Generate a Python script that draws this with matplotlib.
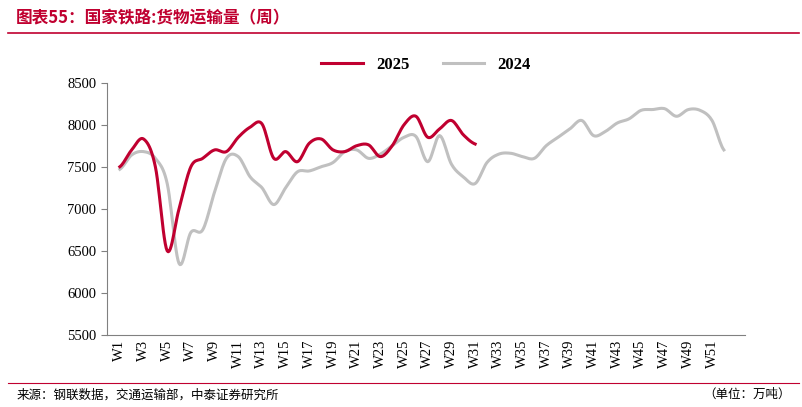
import matplotlib.pyplot as plt
import numpy as np

plt.rcParams['font.family'] = ['Noto Sans CJK SC', 'DejaVu Sans']
SERIF = 'Liberation Serif'

weeks = ['W%d' % i for i in range(1, 53)]
y2025 = [7500, 7700, 7830, 7500, 6500, 7000, 7500, 7600, 7700, 7680, 7850, 7970,
         8010, 7600, 7680, 7560, 7780, 7830, 7700, 7680, 7750, 7760, 7620, 7750,
         8000, 8100, 7850, 7950, 8050, 7880, 7770]
y2024 = [7470, 7640, 7680, 7600, 7300, 6350, 6720, 6750, 7200, 7600, 7620, 7380,
         7250, 7050, 7250, 7440, 7450, 7500, 7550, 7680, 7700, 7600, 7650, 7750,
         7850, 7860, 7560, 7870, 7530, 7380, 7300, 7550, 7650, 7660, 7620, 7600,
         7750, 7850, 7950, 8050, 7870, 7920, 8020, 8070, 8170, 8180, 8190, 8100,
         8180, 8170, 8050, 7700]


def smooth(y, n=12):
    # Catmull-Rom curve through the points
    y = np.asarray(y, float)
    p = np.concatenate([[y[0]], y, [y[-1]]])
    xs, ys = [], []
    t = np.linspace(0, 1, n, endpoint=False)
    for i in range(len(y) - 1):
        p0, p1, p2, p3 = p[i], p[i + 1], p[i + 2], p[i + 3]
        v = 0.5 * (2 * p1 + (-p0 + p2) * t + (2 * p0 - 5 * p1 + 4 * p2 - p3) * t ** 2
                   + (-p0 + 3 * p1 - 3 * p2 + p3) * t ** 3)
        xs.extend(i + t)
        ys.extend(v)
    xs.append(len(y) - 1)
    ys.append(y[-1])
    return np.array(xs), np.array(ys)


fig = plt.figure(figsize=(8.03, 4.07), dpi=100)
ax = fig.add_axes([0.133, 0.177, 0.795, 0.62])

x, y = smooth(y2024)
ax.plot(x, y, color='#c0c0c0', lw=2.2, label='2024')
x, y = smooth(y2025)
ax.plot(x, y, color='#c00030', lw=2.2, label='2025')

ax.set_ylim(5500, 8500)
ax.set_yticks(range(5500, 8501, 500))
ax.set_xlim(-1.1, 52.8)
ax.set_xticks(range(0, 52, 2))
ax.set_xticklabels(weeks[::2], rotation=90, family=SERIF)
ax.tick_params(axis='x', length=0, labelsize=10.5)
ax.tick_params(axis='y', direction='out', length=4, color='#808080', labelsize=10.5)
for lab in ax.get_yticklabels():
    lab.set_family(SERIF)
for s in ['top', 'right']:
    ax.spines[s].set_visible(False)
for s in ['left', 'bottom']:
    ax.spines[s].set_color('#808080')

h, l = ax.get_legend_handles_labels()
ax.legend(h[::-1], l[::-1], loc='upper center', bbox_to_anchor=(0.5, 1.16), ncol=2,
          frameon=False, prop={'family': SERIF, 'size': 12, 'weight': 'bold'},
          handlelength=2.5)

fig.text(0.02, 0.955, '图表55：国家铁路:货物运输量（周）', color='#c00030', fontsize=12,
         fontweight='bold', style='italic', va='center')
fig.add_artist(plt.Line2D([0.01, 0.995], [0.918, 0.918], color='#c00030', lw=1.2))
fig.add_artist(plt.Line2D([0.01, 0.995], [0.06, 0.06], color='#c00030', lw=0.8))
fig.text(0.02, 0.03, '来源：钢联数据，交通运输部，中泰证券研究所', fontsize=9, va='center')
fig.text(0.985, 0.03, '（单位：万吨）', fontsize=9, va='center', ha='right')

fig.savefig('out.png')
